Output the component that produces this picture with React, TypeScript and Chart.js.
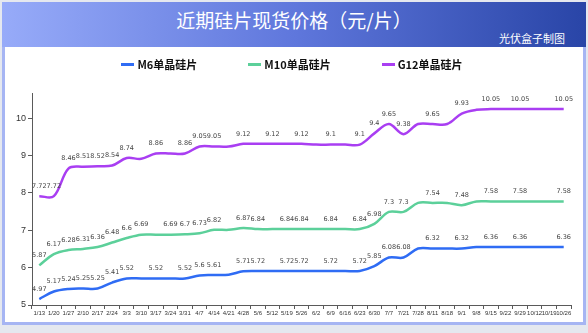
import React, { useEffect, useRef } from "react";
import { Chart, registerables } from "chart.js";

Chart.register(...registerables);

const categories = [
  "1/13", "1/20", "1/27", "2/10", "2/17", "2/24", "3/3", "3/10", "3/17", "3/24",
  "3/31", "4/7", "4/14", "4/21", "4/28", "5/6", "5/12", "5/19", "5/26", "6/2",
  "6/9", "6/16", "6/23", "6/30", "7/7", "7/21", "7/28", "8/11", "8/18", "9/1",
  "9/8", "9/15", "9/22", "9/29", "10/12", "10/19", "10/26",
];

const m6 = [
  4.97, 5.17, 5.24, 5.25, 5.25, 5.41, 5.52, 5.52, 5.52, 5.52,
  5.52, 5.6, 5.61, 5.62, 5.71, 5.72, 5.72, 5.72, 5.72, 5.72,
  5.72, 5.72, 5.72, 5.85, 6.08, 6.08, 6.32, 6.32, 6.32, 6.32,
  6.36, 6.36, 6.36, 6.36, 6.36, 6.36, 6.36,
];

const m10 = [
  5.87, 6.17, 6.28, 6.31, 6.36, 6.48, 6.6, 6.69, 6.69, 6.69,
  6.7, 6.73, 6.82, 6.82, 6.87, 6.84, 6.84, 6.84, 6.84, 6.84,
  6.84, 6.84, 6.84, 6.98, 7.3, 7.3, 7.54, 7.54, 7.54, 7.48,
  7.58, 7.58, 7.58, 7.58, 7.58, 7.58, 7.58,
];

const g12 = [
  7.72, 7.72, 8.46, 8.51, 8.52, 8.54, 8.74, 8.72, 8.86, 8.86,
  8.86, 9.05, 9.05, 9.05, 9.12, 9.12, 9.12, 9.12, 9.12, 9.1,
  9.1, 9.1, 9.1, 9.4, 9.65, 9.38, 9.65, 9.65, 9.65, 9.93,
  10.03, 10.05, 10.05, 10.05, 10.05, 10.05, 10.05,
];

// indices of points that carry a value label
const m6Labeled = [0, 1, 2, 3, 4, 5, 6, 8, 10, 11, 12, 14, 15, 17, 18, 20, 22, 23, 24, 25, 27, 29, 31, 33, 36];
const m10Labeled = [0, 1, 2, 3, 4, 5, 6, 7, 9, 10, 11, 12, 14, 15, 17, 18, 20, 22, 23, 24, 25, 27, 29, 31, 33, 36];
const g12Labeled = [0, 1, 2, 3, 4, 5, 6, 8, 10, 11, 12, 14, 16, 18, 20, 22, 23, 24, 25, 27, 29, 31, 33, 36];

const seriesNames = ["M6单晶硅片", "M10单晶硅片", "G12单晶硅片"];
const seriesColors = ["#2f6cf4", "#5cd09a", "#a93ef2"];
const yTickValues = [5, 6, 7, 8, 9, 10];

const labeledIdx = [m6Labeled, m10Labeled, g12Labeled];

const pointLabelPlugin = {
  id: "pointLabels",
  afterDatasetsDraw(chart: any) {
    const ctx = chart.ctx;
    ctx.save();
    ctx.font = '6.5px "DejaVu Sans"';
    ctx.fillStyle = "#454545";
    ctx.textAlign = "center";
    ctx.textBaseline = "middle";
    chart.data.datasets.forEach((ds: any, di: number) => {
      const meta = chart.getDatasetMeta(di);
      labeledIdx[di].forEach((i) => {
        const el = meta.data[i];
        if (!el) return;
        ctx.fillText(String(ds.data[i]), el.x, el.y - 10);
      });
    });
    ctx.restore();
  },
};

export default function App() {
  const canvasRef = useRef<HTMLCanvasElement | null>(null);

  useEffect(() => {
    if (!canvasRef.current) return;
    const datasets = [m6, m10, g12].map((d, i) => ({
      label: seriesNames[i],
      data: d,
      borderColor: seriesColors[i],
      backgroundColor: seriesColors[i],
      borderWidth: 2.5,
      pointRadius: 0,
      tension: 0.35,
      fill: false,
      yAxisID: "y2",
    }));
    const chart = new Chart(canvasRef.current, {
      type: "line",
      data: { labels: categories, datasets },
      options: {
        animation: false,
        responsive: false,
        maintainAspectRatio: false,
        layout: { padding: { top: 93, right: 17, left: 0, bottom: 10 } },
        plugins: { legend: { display: false }, tooltip: { enabled: false } },
        scales: {
          x: {
            type: "category",
            offset: true,
            grid: {
              display: true,
              drawOnChartArea: false,
              offset: true,
              tickLength: 4,
              color: "#5a5a5a",
            },
            border: { display: true, color: "#5a5a5a", width: 1 },
            ticks: {
              autoSkip: false,
              maxRotation: 0,
              minRotation: 0,
              padding: 1,
              color: "#333",
              font: { size: 6, family: "Liberation Sans" },
            },
            afterFit: (s: any) => {
              s.height = 18;
            },
          },
          y: {
            type: "linear",
            position: "left",
            min: 5,
            max: 10.67,
            ticks: {
              stepSize: 1,
              padding: 2,
              color: "#333",
              font: { size: 9, family: "Liberation Sans" },
            },
            afterBuildTicks: (s: any) => {
              s.ticks = s.ticks.filter((t: any) => yTickValues.includes(t.value));
            },
            grid: { drawOnChartArea: false, tickLength: 4, color: "#5a5a5a" },
            border: { display: true, color: "#5a5a5a", width: 1 },
            afterFit: (s: any) => {
              s.width = 32;
            },
          },
          y2: { type: "linear", display: false, min: 4.81, max: 10.48 },
        },
      },
      plugins: [pointLabelPlugin],
    } as any);
    return () => chart.destroy();
  }, []);

  return (
    <div
      style={{
        position: "absolute",
        left: 0,
        top: 0,
        width: 588,
        height: 333,
        overflow: "hidden",
        background: "#e5e8ef",
        fontFamily: '"Noto Sans CJK SC", "Noto Sans", sans-serif',
      }}
    >
      <div
        style={{
          position: "absolute",
          left: 2,
          top: 2,
          width: 578,
          height: 317,
          background: "#ffffff",
          border: "3px solid #a6b5f3",
        }}
      />
      <div
        style={{
          position: "absolute",
          left: 2,
          top: 2,
          width: 584,
          height: 45,
          background: "linear-gradient(90deg, #97abf9 0%, #5f77dc 50%, #2945a7 100%)",
        }}
      />
      <div
        style={{
          position: "absolute",
          left: 0,
          top: 7,
          width: 588,
          textAlign: "center",
          color: "#ffffff",
          fontSize: 19,
          lineHeight: "26px",
        }}
      >
        近期硅片现货价格（元/片）
      </div>
      <div
        style={{
          position: "absolute",
          right: 23,
          top: 31,
          color: "#ffffff",
          fontSize: 11,
          lineHeight: "14px",
        }}
      >
        光伏盒子制图
      </div>
      <canvas
        ref={canvasRef}
        width={588}
        height={333}
        style={{ position: "absolute", left: 0, top: 0, width: 588, height: 333 }}
      />
      <div
        style={{
          position: "absolute",
          left: 0,
          top: 56,
          width: 584,
          display: "flex",
          justifyContent: "center",
          gap: 51,
          fontSize: 11,
          fontWeight: "bold",
          color: "#111",
          lineHeight: "16px",
        }}
      >
        {seriesNames.map((n, i) => (
          <div key={n} style={{ display: "flex", alignItems: "center" }}>
            <span
              style={{
                display: "inline-block",
                width: 13,
                height: 3,
                background: seriesColors[i],
                marginRight: 3,
              }}
            />
            <span>{n}</span>
          </div>
        ))}
      </div>
    </div>
  );
}
